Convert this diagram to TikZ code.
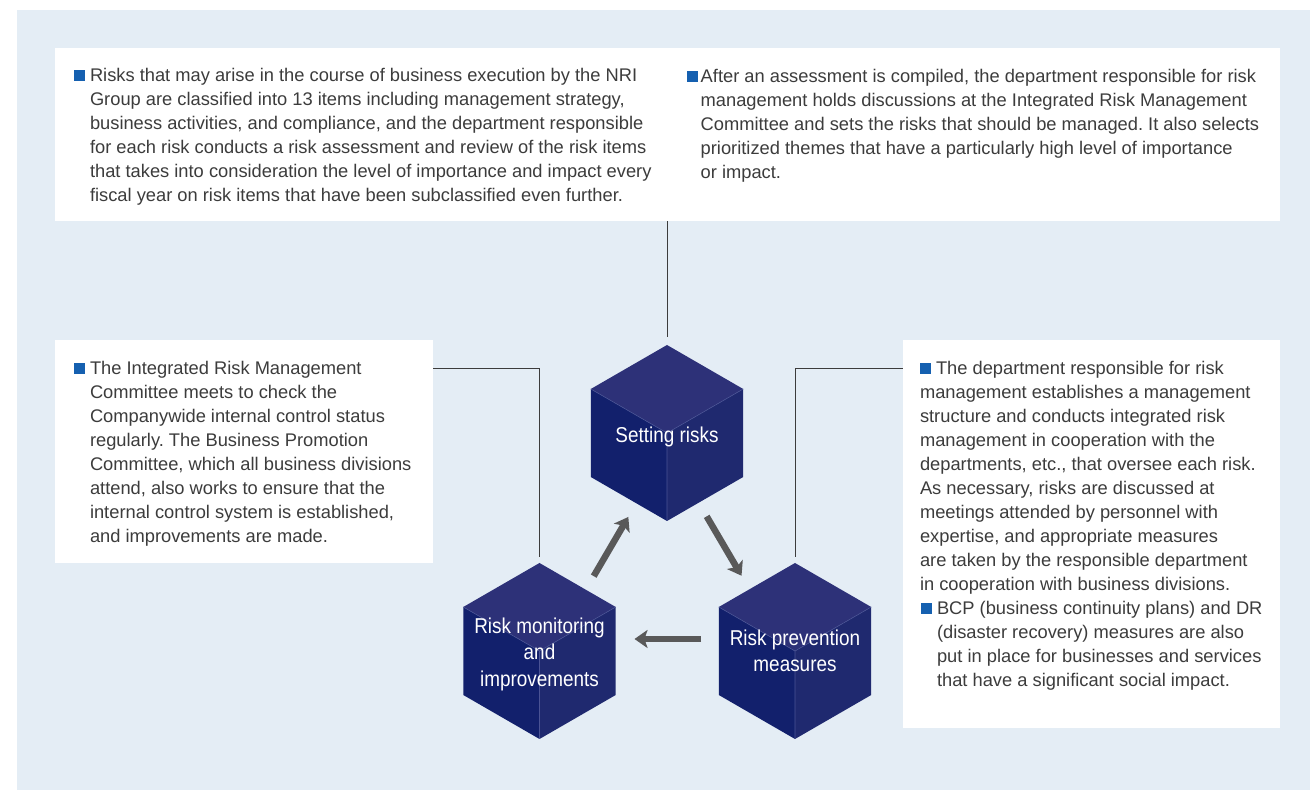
\documentclass[tikz,border=0pt]{standalone}
\usepackage{fontspec}
\setmainfont{Liberation Sans}
\newfontfamily\cubefont[FakeStretch=0.88]{Liberation Sans}
\definecolor{nriBg}{HTML}{E4EDF5}
\definecolor{nriBlue}{HTML}{1560B0}
\definecolor{nriText}{HTML}{3C3C3C}
\definecolor{cubeTop}{HTML}{2D3178}
\definecolor{cubeLeft}{HTML}{12206C}
\definecolor{cubeRight}{HTML}{1F296F}
\definecolor{cubeEdge}{HTML}{4A5394}
\definecolor{arrGray}{HTML}{595959}
\usetikzlibrary{arrows.meta, positioning, calc}
\newcommand{\sqbul}{\textcolor{nriBlue}{\rule{11pt}{11pt}}}
\frenchspacing

\begin{document}
\begin{tikzpicture}[x=1pt, y=1pt,
  every node/.style={align=left},
  panel/.style={rectangle, fill=white, inner sep=0pt},
  txt/.style={anchor=north west, inner sep=0pt, text=nriText,
              font=\fontsize{18.3}{24}\selectfont},
  cubelabel/.style={align=center, text=white, inner sep=0pt,
              font=\cubefont\fontsize{21.5}{26.5}\selectfont},
  lead/.style={draw=nriText, line width=1pt},
  arr/.style={-{Stealth[length=13pt, width=18pt, inset=3pt]}, line width=6.5pt, color=arrGray}
]
  \useasboundingbox (0,0) rectangle (1310,790);
  \fill[nriBg] (17,0) rectangle (1310,780);

  % white panels
  \node[panel, minimum width=1225pt, minimum height=173pt] (boxtop) at (667.5,655.5) {};
  \node[panel, minimum width=378pt, minimum height=223pt] (boxl) at (244,338.5) {};
  \node[panel, minimum width=377pt, minimum height=388pt] (boxr) at (1091.5,256) {};

  \node[txt] (tl) at ([shift={(35,-20)}]boxtop.north west)
    {\llap{\sqbul\hspace{5pt}}\rule{0pt}{13pt}Risks that may arise in the course of business execution by the NRI\\
     Group are classified into 13 items including management strategy,\\
     business activities, and compliance, and the department responsible\\
     for each risk conducts a risk assessment and review of the risk items\\
     that takes into consideration the level of importance and impact every\\
     fiscal year on risk items that have been subclassified even further.};
  \node[txt] (tr) at ([shift={(33,-21)}]boxtop.north)
    {\llap{\sqbul\hspace{3pt}}\rule{0pt}{13pt}After an assessment is compiled, the department responsible for risk\\
     management holds discussions at the Integrated Risk Management\\
     Committee and sets the risks that should be managed. It also selects\\
     prioritized themes that have a particularly high level of importance\\
     or impact.};
  \node[txt] (lt) at ([shift={(35,-21)}]boxl.north west)
    {\llap{\sqbul\hspace{5pt}}\rule{0pt}{13pt}The Integrated Risk Management\\
     Committee meets to check the\\
     Companywide internal control status\\
     regularly. The Business Promotion\\
     Committee, which all business divisions\\
     attend, also works to ensure that the\\
     internal control system is established,\\
     and improvements are made.};
  \node[txt] (rt) at ([shift={(17,-21)}]boxr.north west)
    {\sqbul\hspace{5pt}\rule{0pt}{13pt}The department responsible for risk\\
     management establishes a management\\
     structure and conducts integrated risk\\
     management in cooperation with the\\
     departments, etc., that oversee each risk.\\
     As necessary, risks are discussed at\\
     meetings attended by personnel with\\
     expertise, and appropriate measures\\
     are taken by the responsible department\\
     in cooperation with business divisions.};
  \node[txt] (rb) at ([shift={(34,-261)}]boxr.north west)
    {\llap{\sqbul\hspace{5pt}}\rule{0pt}{13pt}BCP (business continuity plans) and DR\\
     (disaster recovery) measures are also\\
     put in place for businesses and services\\
     that have a significant social impact.};

  % cubes
  \foreach \n/\x/\y in {set/667/357, mon/539.5/139, prev/795/139} {
    \coordinate (\n-c) at (\x,\y);
    \coordinate (\n-top) at ($(\n-c)+(90:88)$);
    \fill[cubeTop] (\n-c) -- ++(150:88) -- ++(30:88) -- ++(-30:88) -- cycle;
    \fill[cubeLeft] (\n-c) -- ++(270:88) -- ++(150:88) -- ++(90:88) -- cycle;
    \fill[cubeRight] (\n-c) -- ++(270:88) -- ++(30:88) -- ++(90:88) -- cycle;
    \draw[cubeEdge, line width=0.6pt] (\n-c) -- ++(150:88) (\n-c) -- ++(30:88) (\n-c) -- ++(270:88);
  }
  \node[cubelabel] (set) at ([yshift=-4pt]set-c) {Setting risks};
  \node[cubelabel] (mon) at ([yshift=-3pt]mon-c) {Risk monitoring\\and\\improvements};
  \node[cubelabel] (prev) at (prev-c) {Risk prevention\\measures};

  % leader lines
  \draw[lead, shorten >=8pt] (set-top |- boxtop.south) -- (set-top);
  \draw[lead, shorten >=6pt] ([yshift=-29pt]boxl.north east) -| (mon-top);
  \draw[lead, shorten >=6pt] ([yshift=-29pt]boxr.north west) -| (prev-top);

  % cycle arrows
  \draw[arr] ($(mon-c)!92pt!(set-c)!9pt!-90:(set-c)$) -- ($(set-c)!92pt!(mon-c)!9pt!90:(mon-c)$);
  \draw[arr] ($(set-c)!92pt!(prev-c)!8pt!-90:(prev-c)$) -- ($(prev-c)!92pt!(set-c)!8pt!90:(set-c)$);
  \draw[arr] ($(prev-c)!94pt!(mon-c)!12pt!-90:(mon-c)$) -- ($(mon-c)!95pt!(prev-c)!12pt!90:(prev-c)$);
\end{tikzpicture}
\end{document}
